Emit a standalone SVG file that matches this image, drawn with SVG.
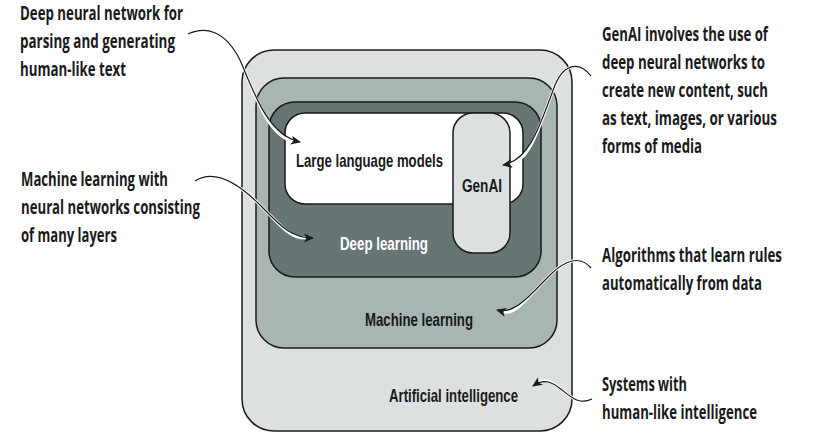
<svg xmlns="http://www.w3.org/2000/svg" width="816" height="437" viewBox="0 0 816 437">
<style>
.box{stroke:#1a1a1a;stroke-width:1.5}
.lbl{font-family:"Liberation Sans Narrow","Liberation Sans",Arial,sans-serif;font-weight:bold;font-size:19px;fill:#1a1a1a}
.note{font-family:"Open Sans","Noto Sans","Liberation Sans",sans-serif;font-weight:700;font-size:20px;fill:#1a1a1a}
.halo{fill:none;stroke:#ffffff;stroke-width:3;stroke-linecap:round}
.wire{fill:none;stroke:#1a1a1a;stroke-width:1.2;marker-end:url(#ah)}
</style>
<defs>
<marker id="ah" viewBox="0 0 10 10" refX="9" refY="5" markerWidth="10" markerHeight="10" markerUnits="userSpaceOnUse" orient="auto">
<path d="M0,0.5 L10,5 L0,9.5 L2.5,5 Z" fill="#1a1a1a"/>
</marker>
</defs>
<rect width="816" height="437" fill="#ffffff"/>
<g id="ai">
<rect class="box" x="242" y="50" width="330" height="381" rx="32" fill="#dce1e0"/>
<text class="lbl" x="389" y="402" textLength="129" lengthAdjust="spacingAndGlyphs">Artificial intelligence</text>
</g>
<g id="ml">
<rect class="box" x="256" y="78" width="301" height="270" rx="28" fill="#a9b5b2"/>
<text class="lbl" x="365" y="326" textLength="108" lengthAdjust="spacingAndGlyphs">Machine learning</text>
</g>
<g id="dl">
<rect class="box" x="269" y="102" width="272" height="175" rx="26" fill="#677575"/>
<text class="lbl" x="340" y="250" textLength="88" lengthAdjust="spacingAndGlyphs" style="fill:#ffffff">Deep learning</text>
</g>
<g id="llm">
<rect class="box" x="285" y="113" width="238" height="91" rx="20" fill="#ffffff"/>
<text class="lbl" x="296" y="167" textLength="147" lengthAdjust="spacingAndGlyphs">Large language models</text>
</g>
<g id="genai">
<rect class="box" x="453" y="113" width="57" height="140" rx="20" fill="#dce1e0"/>
<text class="lbl" x="462" y="192" textLength="40" lengthAdjust="spacingAndGlyphs">GenAI</text>
</g>
<g id="notes" transform="scale(0.7,1)">
<text class="note" x="28.6" y="20" textLength="232.9" lengthAdjust="spacingAndGlyphs">Deep neural network for</text>
<text class="note" x="28.6" y="48" textLength="221.4" lengthAdjust="spacingAndGlyphs">parsing and generating</text>
<text class="note" x="28.6" y="76" textLength="151.4" lengthAdjust="spacingAndGlyphs">human-like text</text>
<text class="note" x="30" y="186" textLength="210" lengthAdjust="spacingAndGlyphs">Machine learning with</text>
<text class="note" x="30" y="214" textLength="255.7" lengthAdjust="spacingAndGlyphs">neural networks consisting</text>
<text class="note" x="30" y="242" textLength="137.1" lengthAdjust="spacingAndGlyphs">of many layers</text>
<text class="note" x="860" y="41" textLength="237.1" lengthAdjust="spacingAndGlyphs">GenAI involves the use of</text>
<text class="note" x="860" y="69" textLength="232.9" lengthAdjust="spacingAndGlyphs">deep neural networks to</text>
<text class="note" x="860" y="97" textLength="237.1" lengthAdjust="spacingAndGlyphs">create new content, such</text>
<text class="note" x="860" y="125" textLength="250" lengthAdjust="spacingAndGlyphs">as text, images, or various</text>
<text class="note" x="860" y="153" textLength="142.9" lengthAdjust="spacingAndGlyphs">forms of media</text>
<text class="note" x="860" y="262" textLength="257.1" lengthAdjust="spacingAndGlyphs">Algorithms that learn rules</text>
<text class="note" x="860" y="290" textLength="228.6" lengthAdjust="spacingAndGlyphs">automatically from data</text>
<text class="note" x="860" y="391" textLength="121.4" lengthAdjust="spacingAndGlyphs">Systems with</text>
<text class="note" x="860" y="419" textLength="221.4" lengthAdjust="spacingAndGlyphs">human-like intelligence</text>
</g>
<g id="connectors">
<path class="halo" d="M188,34 C205,26 225,30 240,60 C255,95 268,135 292,141"/>
<path class="wire" d="M188,34 C205,26 225,30 240,60 C255,95 268,135 300,142"/>
<path class="halo" d="M195,181 C215,168 240,185 260,205 C280,225 290,238 305,238"/>
<path class="wire" d="M195,181 C215,168 240,185 260,205 C280,225 290,238 313,238"/>
<path class="halo" d="M591,76 C580,62 565,62 555,85 C540,125 530,160 511,164"/>
<path class="wire" d="M591,76 C580,62 565,62 555,85 C540,125 530,160 503,165"/>
<path class="halo" d="M591,268 C580,255 565,260 550,275 C530,295 515,315 505,312"/>
<path class="wire" d="M591,268 C580,255 565,260 550,275 C530,295 515,315 497,310"/>
<path class="halo" d="M592,399 C580,405 572,398 562,390 C552,382 545,378 540,382"/>
<path class="wire" d="M592,399 C580,405 572,398 562,390 C552,382 545,378 533,386"/>
</g>
</svg>
